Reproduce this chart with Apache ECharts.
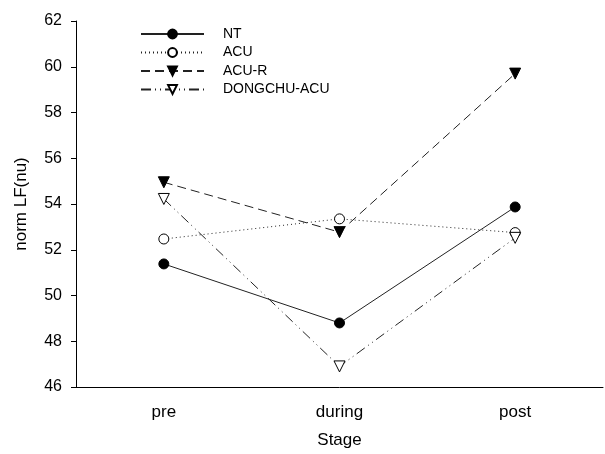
<!DOCTYPE html>
<html><head><meta charset="utf-8">
<script src="https://cdn.jsdelivr.net/npm/echarts@6/dist/echarts.min.js"></script>
<style>html,body{margin:0;padding:0;background:#fff}#c{width:605px;height:454px}</style>
</head><body><div id="c"></div>
<script>
var categories = ['pre', 'during', 'post'];
var seriesNames = ['NT', 'ACU', 'ACU-R', 'DONGCHU-ACU'];
var ntValues = [51.38, 48.8, 53.87];
var acuValues = [52.47, 53.35, 52.75];
var acuRValues = [54.95, 52.77, 59.7];
var dongchuValues = [54.22, 46.9, 52.52];
var yTicks = [46, 48, 50, 52, 54, 56, 58, 60, 62];

var font = 'Liberation Sans, Arial, sans-serif';
function mk(name, data, dash, symbol, filled) {
  return {
    name: name, type: 'line', data: data,
    symbol: symbol, symbolSize: symbol === 'circle' ? 10 : 11,
    symbolRotate: symbol === 'triangle' ? 180 : 0,
    showAllSymbol: true,
    lineStyle: { color: '#222', width: 1, type: dash },
    itemStyle: { color: filled ? '#000' : '#fff', borderColor: '#000', borderWidth: 1 },
    emphasis: { disabled: true },
    animation: false,
    z: 3
  };
}
var chart = echarts.init(document.getElementById('c'));
chart.setOption({
  animation: false,
  grid: { left: 76, right: 2, top: 21, bottom: 66, containLabel: false },
  legend: {
    orient: 'vertical', left: 140, top: 27, padding: 0,
    itemWidth: 63, itemHeight: 11, itemGap: 4.5,
    data: seriesNames,
    textStyle: { fontFamily: font, fontSize: 14, color: '#000', padding: [0, 0, 0, 14] }
  },
  xAxis: {
    type: 'category', data: categories, boundaryGap: true,
    name: 'Stage', nameLocation: 'middle', nameGap: 45,
    nameTextStyle: { fontFamily: font, fontSize: 17, color: '#000' },
    axisLine: { lineStyle: { color: '#000', width: 1 } },
    axisTick: { alignWithLabel: true, length: 5, lineStyle: { color: '#000' } },
    axisLabel: { fontFamily: font, fontSize: 17, color: '#000', margin: 17, interval: 0 },
    splitLine: { show: false }
  },
  yAxis: {
    type: 'value', min: 46, max: 62, interval: 2,
    name: 'norm LF(nu)', nameLocation: 'middle', nameGap: 46,
    nameTextStyle: { fontFamily: font, fontSize: 17, color: '#000' },
    axisLine: { show: true, lineStyle: { color: '#000', width: 1 } },
    axisTick: { show: true, length: 5, lineStyle: { color: '#000' } },
    axisLabel: { fontFamily: font, fontSize: 16, color: '#000', margin: 14,
      formatter: function (v) { return yTicks.indexOf(v) >= 0 ? String(v) : ''; } },
    splitLine: { show: false }
  },
  series: [
    mk(seriesNames[0], ntValues, 'solid', 'circle', true),
    mk(seriesNames[1], acuValues, [1, 3], 'circle', false),
    mk(seriesNames[2], acuRValues, [9, 5], 'triangle', true),
    mk(seriesNames[3], dongchuValues, [10, 4, 1, 4, 1, 4], 'triangle', false)
  ]
});
</script></body></html>
